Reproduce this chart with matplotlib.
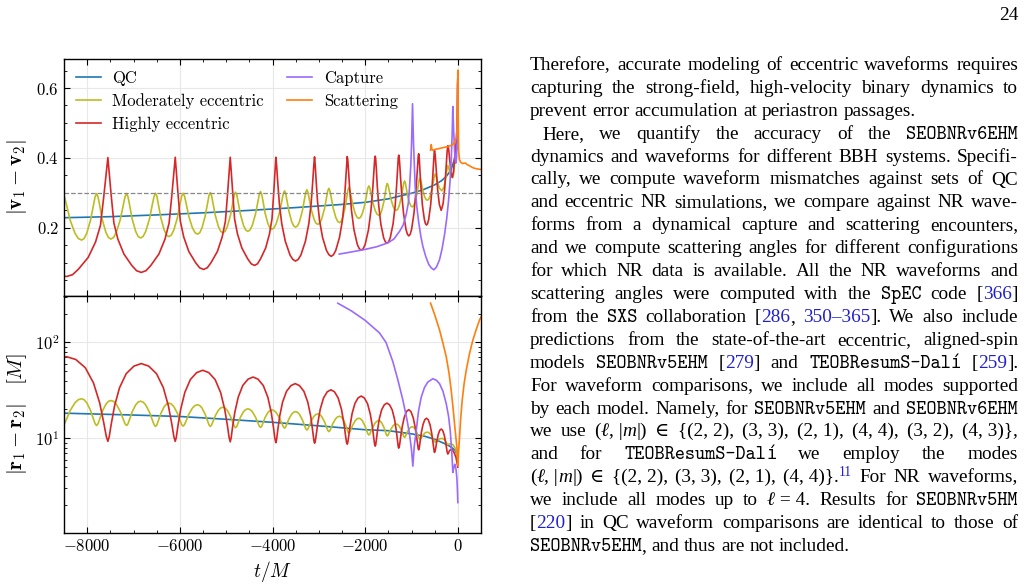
import re
import numpy as np
import matplotlib
matplotlib.use('Agg')
import matplotlib.pyplot as plt
from matplotlib.ticker import MultipleLocator

plt.rcParams['font.family'] = 'serif'
plt.rcParams['font.serif'] = ['cmr10']
plt.rcParams['mathtext.fontset'] = 'cm'
plt.rcParams['axes.formatter.use_mathtext'] = True

# ---- upper panel: |v1 - v2| ----
qc_top = [(-8500, 0.229), (-7500, 0.232), (-6500, 0.237), (-5500, 0.243), (-4500, 0.250),
          (-3500, 0.258), (-2500, 0.267), (-2000, 0.273), (-1500, 0.283), (-1000, 0.299),
          (-750, 0.309), (-500, 0.323), (-350, 0.335), (-250, 0.347), (-150, 0.365),
          (-70, 0.397), (-20, 0.43)]

mod_top = [(-8530, 0.297), (-8489, 0.2878), (-8448, 0.2666), (-8367, 0.2218), (-8265, 0.1848), (-8191, 0.1694), (-8122, 0.165),
           (-8067, 0.1694), (-8009, 0.185), (-7928, 0.2222), (-7863, 0.2674), (-7830, 0.2887), (-7798, 0.298),
           (-7767, 0.2889), (-7736, 0.2681), (-7675, 0.2239), (-7598, 0.1875), (-7542, 0.1723), (-7490, 0.168),
           (-7432, 0.1723), (-7371, 0.1875), (-7286, 0.2239), (-7218, 0.2681), (-7184, 0.2889), (-7150, 0.298),
           (-7120, 0.2891), (-7090, 0.2688), (-7030, 0.2256), (-6954, 0.19), (-6900, 0.1752), (-6849, 0.171),
           (-6794, 0.1752), (-6736, 0.1902), (-6655, 0.226), (-6590, 0.2696), (-6557, 0.29), (-6525, 0.299),
           (-6496, 0.2903), (-6468, 0.2705), (-6410, 0.2283), (-6338, 0.1936), (-6287, 0.1791), (-6238, 0.175),
           (-6186, 0.1791), (-6131, 0.1936), (-6054, 0.2283), (-5992, 0.2705), (-5962, 0.2903), (-5931, 0.299),
           (-5900, 0.2908), (-5868, 0.2721), (-5806, 0.2323), (-5728, 0.1996), (-5671, 0.1859), (-5618, 0.182),
           (-5571, 0.1859), (-5522, 0.1999), (-5454, 0.2332), (-5399, 0.2736), (-5371, 0.2927), (-5344, 0.301),
           (-5317, 0.293), (-5290, 0.2746), (-5235, 0.2355), (-5167, 0.2033), (-5118, 0.1898), (-5072, 0.186),
           (-5025, 0.1898), (-4976, 0.2034), (-4908, 0.2359), (-4853, 0.2753), (-4825, 0.2939), (-4798, 0.302),
           (-4771, 0.2942), (-4745, 0.2762), (-4692, 0.2382), (-4626, 0.2068), (-4578, 0.1937), (-4533, 0.19),
           (-4486, 0.1938), (-4437, 0.2071), (-4368, 0.239), (-4313, 0.2778), (-4285, 0.296), (-4258, 0.304),
           (-4234, 0.2964), (-4209, 0.2792), (-4161, 0.2424), (-4100, 0.2122), (-4056, 0.1996), (-4015, 0.196),
           (-3968, 0.1996), (-3919, 0.2125), (-3850, 0.2433), (-3795, 0.2807), (-3767, 0.2983), (-3740, 0.306),
           (-3716, 0.2987), (-3693, 0.2821), (-3645, 0.2467), (-3586, 0.2176), (-3543, 0.2054), (-3503, 0.202),
           (-3461, 0.2055), (-3418, 0.218), (-3357, 0.248), (-3308, 0.2844), (-3283, 0.3015), (-3259, 0.309),
           (-3235, 0.3021), (-3212, 0.2862), (-3164, 0.2526), (-3105, 0.2249), (-3062, 0.2133), (-3022, 0.21),
           (-2981, 0.2134), (-2939, 0.2255), (-2879, 0.2543), (-2832, 0.2893), (-2808, 0.3058), (-2784, 0.313),
           (-2761, 0.3061), (-2738, 0.2905), (-2692, 0.2571), (-2634, 0.2297), (-2592, 0.2182), (-2553, 0.215),
           (-2519, 0.2183), (-2483, 0.23), (-2433, 0.258), (-2393, 0.292), (-2373, 0.308), (-2353, 0.315),
           (-2331, 0.3088), (-2310, 0.2948), (-2267, 0.2648), (-2213, 0.2402), (-2174, 0.2299), (-2137, 0.227),
           (-2100, 0.2301), (-2061, 0.241), (-2007, 0.267), (-1964, 0.2986), (-1943, 0.3135), (-1921, 0.32),
           (-1899, 0.3141), (-1878, 0.3007), (-1835, 0.2721), (-1781, 0.2486), (-1742, 0.2388), (-1705, 0.236),
           (-1674, 0.239), (-1642, 0.2497), (-1596, 0.2751), (-1560, 0.3061), (-1542, 0.3206), (-1524, 0.327),
           (-1505, 0.3216), (-1485, 0.3093), (-1446, 0.2831), (-1398, 0.2616), (-1363, 0.2525), (-1330, 0.25),
           (-1299, 0.2528), (-1267, 0.2626), (-1222, 0.2861), (-1186, 0.3147), (-1168, 0.3281), (-1150, 0.334),
           (-1133, 0.3288), (-1117, 0.317), (-1084, 0.2918), (-1042, 0.2711), (-1012, 0.2624), (-984, 0.26),
           (-956, 0.2627), (-927, 0.2723), (-886, 0.2953), (-853, 0.3231), (-836, 0.3363), (-820, 0.342),
           (-804, 0.3376), (-788, 0.3275), (-756, 0.3061), (-716, 0.2885), (-687, 0.2811), (-660, 0.279),
           (-631, 0.2815), (-600, 0.2903), (-557, 0.3113), (-522, 0.3368), (-505, 0.3488), (-488, 0.354),
           (-459, 0.343), (-431, 0.3266), (-395, 0.3132), (-345, 0.306),
           (-300, 0.3168), (-268, 0.337), (-242, 0.3614), (-216, 0.378),
           (-194, 0.3702), (-173, 0.3586), (-146, 0.3491), (-108, 0.344),
           (-88, 0.356), (-73, 0.379), (-62, 0.407), (-50, 0.426), (-30, 0.44)]

high_top = [(-8500, 0.0615), (-8440, 0.061), (-8316, 0.0661),
            (-8192, 0.0814), (-7979, 0.1154), (-7820, 0.1596), (-7714, 0.2072), (-7643, 0.2888), (-7589, 0.3568), (-7554, 0.401),
            (-7525, 0.3583), (-7482, 0.2926), (-7424, 0.2138), (-7338, 0.1678), (-7208, 0.1251), (-7036, 0.0922), (-6935, 0.0774), (-6834, 0.0725),
            (-6731, 0.0774), (-6628, 0.0923), (-6452, 0.1252), (-6320, 0.1681), (-6232, 0.2142), (-6173, 0.2933), (-6129, 0.3592), (-6100, 0.402),
            (-6076, 0.3603), (-6039, 0.2961), (-5990, 0.219), (-5917, 0.1741), (-5807, 0.1324), (-5660, 0.1003), (-5574, 0.0858), (-5489, 0.081),
            (-5408, 0.0858), (-5328, 0.1003), (-5190, 0.1324), (-5086, 0.1741), (-5017, 0.219), (-4971, 0.2961), (-4936, 0.3603), (-4913, 0.402),
            (-4892, 0.3618), (-4861, 0.2999), (-4819, 0.2256), (-4756, 0.1823), (-4661, 0.1421), (-4535, 0.1112), (-4461, 0.0972), (-4388, 0.0926),
            (-4324, 0.0972), (-4259, 0.1112), (-4149, 0.1421), (-4066, 0.1823), (-4011, 0.2256), (-3974, 0.2999), (-3946, 0.3618), (-3928, 0.402),
            (-3911, 0.3782), (-3886, 0.3278), (-3852, 0.2684), (-3801, 0.2119), (-3724, 0.1614), (-3622, 0.1222), (-3562, 0.1098), (-3503, 0.105),
            (-3446, 0.1098), (-3388, 0.1223), (-3290, 0.1616), (-3216, 0.2123), (-3167, 0.2689), (-3134, 0.3285), (-3109, 0.3792), (-3093, 0.403),
            (-3079, 0.3802), (-3057, 0.3319), (-3028, 0.275), (-2985, 0.2209), (-2920, 0.1726), (-2834, 0.135), (-2783, 0.1231), (-2733, 0.1185),
            (-2685, 0.1231), (-2636, 0.1351), (-2554, 0.1727), (-2492, 0.2213), (-2450, 0.2755), (-2423, 0.3326), (-2402, 0.3812), (-2388, 0.404),
            (-2376, 0.3952), (-2358, 0.3611), (-2334, 0.3102), (-2297, 0.2512), (-2243, 0.195), (-2170, 0.1526), (-2127, 0.1403), (-2085, 0.136),
            (-2043, 0.1403), (-2000, 0.1527), (-1928, 0.1952), (-1874, 0.2517), (-1837, 0.3109), (-1813, 0.362), (-1795, 0.3961), (-1783, 0.405),
            (-1773, 0.3968), (-1758, 0.3652), (-1738, 0.3179), (-1707, 0.2631), (-1662, 0.2108), (-1601, 0.1714), (-1565, 0.16), (-1530, 0.156),
            (-1494, 0.16), (-1459, 0.1716), (-1398, 0.2114), (-1352, 0.2644), (-1322, 0.3198), (-1301, 0.3677), (-1286, 0.3997), (-1276, 0.408),
            (-1267, 0.4029), (-1254, 0.3814), (-1237, 0.3445), (-1211, 0.296), (-1171, 0.2405), (-1119, 0.1955), (-1088, 0.1816), (-1058, 0.177),
            (-1028, 0.1817), (-998, 0.1958), (-947, 0.2416), (-909, 0.298), (-883, 0.3474), (-866, 0.385), (-854, 0.4068), (-845, 0.412),
            (-838, 0.4075), (-828, 0.3885), (-815, 0.3559), (-794, 0.3131), (-764, 0.2641), (-723, 0.2243), (-700, 0.2121), (-676, 0.208),
            (-652, 0.2123), (-628, 0.225), (-586, 0.2666), (-555, 0.3177), (-534, 0.3624), (-520, 0.3965), (-510, 0.4163), (-503, 0.421),
            (-489, 0.409), (-477, 0.3868), (-460, 0.3526), (-434, 0.3064), (-399, 0.2671), (-359, 0.25),
            (-319, 0.2685), (-284, 0.311), (-258, 0.361), (-241, 0.398), (-229, 0.422), (-215, 0.435),
            (-198, 0.425), (-170, 0.3868), (-148, 0.3586), (-122, 0.344),
            (-95, 0.36), (-70, 0.40), (-45, 0.43), (-25, 0.46), (-12, 0.53), (-3, 0.622)]

cap_top = [(-2560, 0.125), (-2300, 0.131), (-2014, 0.138), (-1750, 0.146), (-1511, 0.157),
           (-1380, 0.168), (-1258, 0.19), (-1180, 0.208), (-1114, 0.2386), (-1070, 0.27),
           (-1043, 0.315), (-1015, 0.38), (-999, 0.44), (-978, 0.555), (-956, 0.44),
           (-920, 0.315), (-885, 0.26), (-848, 0.219), (-800, 0.177), (-755, 0.147),
           (-690, 0.117), (-626, 0.095), (-570, 0.085), (-518, 0.080), (-460, 0.088),
           (-395, 0.109), (-340, 0.14), (-287, 0.181), (-240, 0.227), (-201, 0.277),
           (-170, 0.33), (-143, 0.392), (-122, 0.47), (-108, 0.547), (-93, 0.49),
           (-78, 0.44), (-60, 0.40), (-45, 0.385), (-28, 0.40), (-12, 0.45), (-5, 0.613)]

scat_top = [(-589, 0.422), (-575, 0.438), (-560, 0.425), (-540, 0.422), (-500, 0.424),
            (-400, 0.427), (-300, 0.43), (-200, 0.433), (-120, 0.437), (-70, 0.445),
            (-40, 0.455), (-20, 0.478), (-8, 0.565), (0, 0.651), (8, 0.52), (18, 0.42),
            (35, 0.395), (60, 0.388), (100, 0.384), (130, 0.385), (166, 0.385),
            (200, 0.381), (260, 0.377), (324, 0.372), (400, 0.369), (500, 0.367)]

# ---- lower panel: log10(|r1 - r2| / M) ----
qc_bot = [(-8500, 1.2625), (-7000, 1.243), (-6000, 1.228), (-5000, 1.1987), (-4000, 1.1673),
          (-3000, 1.1303), (-2000, 1.0899), (-1500, 1.08), (-1000, 1.047), (-700, 1.02),
          (-500, 0.99), (-300, 0.948), (-200, 0.925), (-120, 0.9), (-60, 0.875),
          (-25, 0.84), (-5, 0.79)]

mod_bot = [(-8530, 1.1335), (-8489, 1.1531), (-8448, 1.1978), (-8367, 1.29), (-8265, 1.3711), (-8191, 1.4032), (-8122, 1.413),
           (-8067, 1.4032), (-8009, 1.3711), (-7928, 1.29), (-7863, 1.1978), (-7830, 1.1531), (-7798, 1.1335),
           (-7767, 1.1518), (-7736, 1.1935), (-7675, 1.2797), (-7598, 1.3554), (-7542, 1.3854), (-7490, 1.3945),
           (-7432, 1.3854), (-7371, 1.3554), (-7286, 1.2797), (-7218, 1.1935), (-7184, 1.1518), (-7150, 1.1335),
           (-7120, 1.1513), (-7090, 1.1919), (-7030, 1.2757), (-6954, 1.3493), (-6900, 1.3785), (-6849, 1.3874),
           (-6794, 1.3782), (-6736, 1.3479), (-6655, 1.2715), (-6590, 1.1845), (-6557, 1.1423), (-6525, 1.1239),
           (-6496, 1.1409), (-6468, 1.1799), (-6410, 1.2603), (-6338, 1.3309), (-6287, 1.3589), (-6238, 1.3674),
           (-6186, 1.359), (-6131, 1.3314), (-6054, 1.2617), (-5992, 1.1824), (-5962, 1.1439), (-5931, 1.1271),
           (-5900, 1.1427), (-5868, 1.1784), (-5806, 1.252), (-5728, 1.3167), (-5671, 1.3424), (-5618, 1.3502),
           (-5571, 1.3423), (-5522, 1.3163), (-5454, 1.2506), (-5399, 1.1759), (-5371, 1.1397), (-5344, 1.1239),
           (-5317, 1.1379), (-5290, 1.17), (-5235, 1.2361), (-5167, 1.2942), (-5118, 1.3173), (-5072, 1.3243),
           (-5025, 1.3168), (-4976, 1.2922), (-4908, 1.2303), (-4853, 1.1598), (-4825, 1.1256), (-4798, 1.1106),
           (-4771, 1.1244), (-4745, 1.1559), (-4692, 1.2209), (-4626, 1.278), (-4578, 1.3006), (-4533, 1.3075),
           (-4486, 1.3007), (-4437, 1.2785), (-4368, 1.2223), (-4313, 1.1584), (-4285, 1.1275), (-4258, 1.1139),
           (-4234, 1.1267), (-4209, 1.1559), (-4161, 1.2163), (-4100, 1.2693), (-4056, 1.2903), (-4015, 1.2967),
           (-3968, 1.2901), (-3919, 1.2683), (-3850, 1.2133), (-3795, 1.1508), (-3767, 1.1205), (-3740, 1.1072),
           (-3716, 1.1192), (-3693, 1.1467), (-3645, 1.2033), (-3586, 1.2531), (-3543, 1.2728), (-3503, 1.2788),
           (-3461, 1.2721), (-3418, 1.2499), (-3357, 1.1941), (-3308, 1.1307), (-3283, 1.0999), (-3259, 1.0864),
           (-3235, 1.0982), (-3212, 1.1252), (-3164, 1.181), (-3105, 1.23), (-3062, 1.2494), (-3022, 1.2553),
           (-2981, 1.2488), (-2939, 1.2275), (-2879, 1.1738), (-2832, 1.1126), (-2808, 1.083), (-2784, 1.07),
           (-2761, 1.0812), (-2738, 1.1069), (-2692, 1.1598), (-2634, 1.2063), (-2592, 1.2248), (-2553, 1.2304),
           (-2519, 1.2242), (-2483, 1.2038), (-2433, 1.1524), (-2393, 1.0939), (-2373, 1.0655), (-2353, 1.0531),
           (-2331, 1.064), (-2310, 1.0891), (-2267, 1.1407), (-2213, 1.186), (-2174, 1.204), (-2137, 1.2095),
           (-2100, 1.2034), (-2061, 1.1834), (-2007, 1.1329), (-1964, 1.0754), (-1943, 1.0476), (-1921, 1.0354),
           (-1899, 1.0459), (-1878, 1.0697), (-1835, 1.119), (-1781, 1.1623), (-1742, 1.1795), (-1705, 1.1847),
           (-1674, 1.1791), (-1642, 1.1608), (-1596, 1.1146), (-1560, 1.062), (-1542, 1.0365), (-1524, 1.0253),
           (-1505, 1.034), (-1485, 1.0538), (-1446, 1.0947), (-1398, 1.1306), (-1363, 1.1449), (-1330, 1.1492),
           (-1299, 1.1444), (-1267, 1.1284), (-1222, 1.0883), (-1186, 1.0426), (-1168, 1.0204), (-1150, 1.0107),
           (-1133, 1.0184), (-1117, 1.036), (-1084, 1.0722), (-1042, 1.1041), (-1012, 1.1168), (-984, 1.1206),
           (-956, 1.116), (-927, 1.1009), (-886, 1.0629), (-853, 1.0196), (-836, 0.9986), (-820, 0.9894),
           (-804, 0.9947), (-788, 1.0067), (-756, 1.0315), (-716, 1.0532), (-687, 1.0619), (-660, 1.0645),
           (-631, 1.0608), (-600, 1.0487), (-557, 1.0181), (-522, 0.9833), (-505, 0.9664), (-488, 0.959),
           (-459, 0.9684), (-431, 0.982), (-395, 0.9939), (-345, 1.0),
           (-300, 0.9902), (-268, 0.9712), (-242, 0.9496), (-216, 0.9345),
           (-160, 0.945), (-108, 0.935), (-60, 0.90), (-30, 0.86), (-10, 0.80)]

high_bot = [(-8500, 1.849), (-8440, 1.851), (-8245, 1.8219), (-8041, 1.7363), (-7864, 1.5774), (-7731, 1.37), (-7643, 1.1627), (-7589, 1.0215), (-7554, 0.9685),
            (-7525, 1.0172), (-7482, 1.147), (-7410, 1.3377), (-7302, 1.5284), (-7158, 1.6745), (-6992, 1.7532), (-6834, 1.78),
            (-6672, 1.7532), (-6504, 1.6745), (-6357, 1.5284), (-6247, 1.3377), (-6173, 1.147), (-6129, 1.0172), (-6100, 0.9685),
            (-6076, 1.013), (-6041, 1.1316), (-5981, 1.3059), (-5892, 1.4801), (-5773, 1.6136), (-5637, 1.6855), (-5506, 1.71),
            (-5376, 1.6854), (-5239, 1.613), (-5121, 1.4787), (-5032, 1.3033), (-4972, 1.128), (-4937, 1.0086), (-4913, 0.9638),
            (-4893, 1.0043), (-4864, 1.1125), (-4814, 1.2712), (-4740, 1.43), (-4642, 1.5517), (-4528, 1.6172), (-4420, 1.6395),
            (-4312, 1.6169), (-4199, 1.5504), (-4100, 1.4271), (-4026, 1.266), (-3977, 1.105), (-3948, 0.9953), (-3928, 0.9542),
            (-3911, 0.9912), (-3886, 1.0898), (-3844, 1.2346), (-3782, 1.3794), (-3698, 1.4904), (-3602, 1.5502), (-3510, 1.5705),
            (-3418, 1.55), (-3322, 1.4898), (-3239, 1.378), (-3176, 1.232), (-3135, 1.086), (-3110, 0.9867), (-3093, 0.9494),
            (-3079, 0.9661), (-3058, 1.0319), (-3022, 1.1605), (-2970, 1.3043), (-2899, 1.4213), (-2818, 1.4859), (-2740, 1.5065),
            (-2663, 1.4855), (-2582, 1.4197), (-2511, 1.3007), (-2458, 1.1544), (-2423, 1.0234), (-2402, 0.9565), (-2388, 0.9395),
            (-2376, 0.9545), (-2358, 1.0137), (-2327, 1.1295), (-2282, 1.2589), (-2221, 1.3642), (-2152, 1.4223), (-2085, 1.4409),
            (-2019, 1.4216), (-1949, 1.3611), (-1889, 1.2515), (-1843, 1.1169), (-1813, 0.9963), (-1795, 0.9348), (-1783, 0.9191),
            (-1773, 0.9325), (-1758, 0.9854), (-1732, 1.089), (-1695, 1.2047), (-1644, 1.2988), (-1586, 1.3508), (-1530, 1.3674),
            (-1474, 1.35), (-1416, 1.2955), (-1365, 1.1969), (-1327, 1.0757), (-1301, 0.9671), (-1286, 0.9117), (-1276, 0.8976),
            (-1267, 0.9068), (-1254, 0.9417), (-1233, 1.018), (-1200, 1.1223), (-1157, 1.2186), (-1108, 1.2804), (-1060, 1.2989),
            (-1013, 1.2797), (-963, 1.2153), (-920, 1.1149), (-888, 1.0062), (-866, 0.9268), (-854, 0.8904), (-845, 0.8808),
            (-838, 0.8884), (-828, 0.917), (-811, 0.9794), (-786, 1.0649), (-752, 1.1438), (-713, 1.1944), (-676, 1.2095),
            (-638, 1.1931), (-598, 1.1382), (-564, 1.0527), (-538, 0.96), (-520, 0.8923), (-510, 0.8613), (-503, 0.8531),
            (-489, 0.8702), (-474, 0.9087), (-453, 0.9709), (-424, 1.0384), (-391, 1.0835), (-359, 1.0969),
            (-327, 1.0826), (-294, 1.0344), (-265, 0.9622), (-244, 0.8957), (-229, 0.8545), (-215, 0.8363),
            (-180, 0.87), (-150, 0.885), (-120, 0.88), (-80, 0.85), (-40, 0.80), (-15, 0.74), (-3, 0.70)]

cap_bot = [(-2590, 2.409), (-2300, 2.33), (-2000, 2.23), (-1692, 2.10), (-1550, 2.0), (-1403, 1.80),
           (-1300, 1.62), (-1187, 1.40), (-1100, 1.20), (-1043, 1.046), (-1000, 0.88), (-971, 0.71),
           (-940, 0.92), (-898, 1.08), (-850, 1.28), (-790, 1.43), (-720, 1.53), (-648, 1.587),
           (-540, 1.622), (-460, 1.605), (-395, 1.57), (-320, 1.49), (-250, 1.36), (-200, 1.23),
           (-164, 1.08), (-130, 0.85), (-108, 0.644), (-85, 0.70), (-65, 0.73), (-40, 0.68),
           (-20, 0.58), (-8, 0.45), (0, 0.33)]

scat_bot = [(-589, 2.41), (-500, 2.29), (-395, 2.13), (-320, 1.99), (-250, 1.85), (-190, 1.68),
            (-143, 1.50), (-100, 1.30), (-71, 1.15), (-40, 1.00), (-13, 0.87), (0, 0.714),
            (15, 0.85), (37, 1.01), (60, 1.20), (94, 1.395), (135, 1.57), (181, 1.71),
            (250, 1.88), (324, 2.024), (400, 2.14), (468, 2.234), (505, 2.27)]

labels = ['QC', 'Moderately eccentric', 'Highly eccentric', 'Capture', 'Scattering']
colors = ['#1f77b4', '#bcbd22', '#d62728', '#9a6bff', '#ff7f0e']
top_sets = [qc_top, mod_top, high_top, cap_top, scat_top]
bot_sets = [qc_bot, mod_bot, high_bot, cap_bot, scat_bot]

W, H = 1028, 587
fig = plt.figure(figsize=(W / 100, H / 100), dpi=100)
ax1 = fig.add_axes([0.0623, 0.4957, 0.4056, 0.4038])
ax2 = fig.add_axes([0.0623, 0.092, 0.4056, 0.4037], sharex=ax1)

for data, lab, col in zip(top_sets, labels, colors):
    t, v = zip(*data)
    ax1.plot(t, v, color=col, lw=1.2, label=lab)
ax1.axhline(0.3, color='#888888', ls='--', lw=0.9)

for data, col in zip(bot_sets, colors):
    t, lr = zip(*data)
    ax2.plot(t, 10 ** np.array(lr), color=col, lw=1.2)

ax1.set_xlim(-8500, 500)
ax1.set_ylim(0.005, 0.683)
ax2.set_yscale('log')
ax2.set_ylim(1.03, 305)

ax1.yaxis.set_major_locator(MultipleLocator(0.2))
ax1.yaxis.set_minor_locator(MultipleLocator(0.05))
ax1.xaxis.set_major_locator(MultipleLocator(2000))
ax1.xaxis.set_minor_locator(MultipleLocator(500))

for ax in (ax1, ax2):
    ax.tick_params(which='both', direction='in', top=True, right=True, labelsize=12)
    ax.tick_params(which='major', length=4.5, width=0.8)
    ax.tick_params(which='minor', length=2.5, width=0.6)
    ax.grid(True, which='major', color='#e8e8e8', lw=0.8)
    ax.set_axisbelow(True)
    for s in ax.spines.values():
        s.set_linewidth(1.0)
ax1.tick_params(labelbottom=False)

ax1.set_ylabel(r'$|\mathbf{v}_1 - \mathbf{v}_2|$', fontsize=15)
ax2.set_ylabel(r'$|\mathbf{r}_1 - \mathbf{r}_2| \quad [M]$', fontsize=15)
ax2.set_xlabel(r'$t/M$', fontsize=14)
ax1.yaxis.set_label_coords(-0.083, 0.5)
ax2.yaxis.set_label_coords(-0.083, 0.5)

ax1.legend(loc='upper left', ncol=2, frameon=False, fontsize=12, handlelength=1.5,
           handletextpad=0.7, columnspacing=1.4, labelspacing=0.45, borderaxespad=0.3)

# ---- page text ----
BODY = 13.9
serif = ['Liberation Serif', 'DejaVu Serif']
mono = ['cmtt10', 'DejaVu Sans Mono']
cite = '#1f1fd0'
styles = {
    'rm': dict(family=serif, color='black', size=BODY),
    'it': dict(family=serif, style='italic', color='black', size=BODY),
    'tt': dict(family=mono, color='black', size=BODY),
    'ta': dict(family='DejaVu Sans Mono', color='black', size=BODY * 0.87),
    'c': dict(family=serif, color=cite, size=BODY),
    'sup': dict(family=serif, color=cite, size=BODY * 0.7),
}

lines = [
    ("Therefore, accurate modeling of eccentric waveforms requires", True, 530),
    ("capturing the strong-field, high-velocity binary dynamics to", True, 530),
    ("prevent error accumulation at periastron passages.", False, 530),
    ("Here, we quantify the accuracy of the <tt:SEOBNRv6EHM>", True, 542),
    ("dynamics and waveforms for different BBH systems. Specifi-", True, 530),
    ("cally, we compute waveform mismatches against sets of QC", True, 530),
    ("and eccentric NR simulations, we compare against NR wave-", True, 530),
    ("forms from a dynamical capture and scattering encounters,", True, 530),
    ("and we compute scattering angles for different configurations", True, 530),
    ("for which NR data is available. All the NR waveforms and", True, 530),
    ("scattering angles were computed with the <tt:SpEC> code [<c:366>]", True, 530),
    ("from the <tt:SXS> collaboration [<c:286>, <c:350–365>]. We also include", True, 530),
    ("predictions from the state-of-the-art eccentric, aligned-spin", True, 530),
    ("models <tt:SEOBNRv5EHM> [<c:279>] and <tt:TEOBResumS-Dal><ta:í> [<c:259>].", True, 530),
    ("For waveform comparisons, we include all modes supported", True, 530),
    ("by each model. Namely, for <tt:SEOBNRv5EHM> and <tt:SEOBNRv6EHM>", True, 530),
    ("we use (<it:ℓ>,~|<it:m>|) ∈ {(2,~2), (3,~3), (2,~1), (4,~4), (3,~2), (4,~3)},", True, 530),
    ("and for <tt:TEOBResumS-Dal><ta:í> we employ the modes", True, 530),
    ("(<it:ℓ>,~|<it:m>|) ∈ {(2,~2), (3,~3), (2,~1), (4,~4)}.<sup:11> For NR waveforms,", True, 530),
    ("we include all modes up to <it:ℓ>~=~4. Results for <tt:SEOBNRv5HM>", True, 530),
    ("[<c:220>] in QC waveform comparisons are identical to those of", True, 530),
    ("<tt:SEOBNRv5EHM>, and thus are not included.", False, 530),
]

renderer = fig.canvas.get_renderer()


def split_word(word):
    segs, pos = [], 0
    for m in re.finditer(r'<(\w+):([^>]*)>', word):
        if m.start() > pos:
            segs.append(('rm', word[pos:m.start()]))
        segs.append((m.group(1), m.group(2)))
        pos = m.end()
    if pos < len(word):
        segs.append(('rm', word[pos:]))
    return [(s, txt.replace('~', ' ')) for s, txt in segs]


probe = fig.text(0, 0, 'a a', **styles['rm'])
probe2 = fig.text(0, 0, 'aa', **styles['rm'])
space_w = probe.get_window_extent(renderer).width - probe2.get_window_extent(renderer).width
probe.remove()
probe2.remove()

x_right = 1018
for i, (line, justify, x0) in enumerate(lines):
    base = 70 + 22.9 * i
    words = [split_word(w) for w in line.split(' ') if w]
    placed, widths = [], []
    for segs in words:
        ws = []
        for st, txt in segs:
            t = fig.text(0, 0, txt, va='baseline', **styles[st])
            ws.append((t, t.get_window_extent(renderer).width, st))
        placed.append(ws)
        widths.append(sum(w for _, w, _ in ws))
    if justify and len(words) > 1:
        gap = (x_right - x0 - sum(widths)) / (len(words) - 1)
    else:
        gap = space_w
    x = x0
    for ws in placed:
        for t, w, st in ws:
            lift = 6 if st == 'sup' else 0
            t.set_position((x / W, 1 - (base - lift) / H))
            x += w
        x += gap

fig.text(x_right / W, 1 - 19.5 / H, '24', ha='right', va='baseline', **styles['rm'])

fig.savefig('out.png', dpi=100)
